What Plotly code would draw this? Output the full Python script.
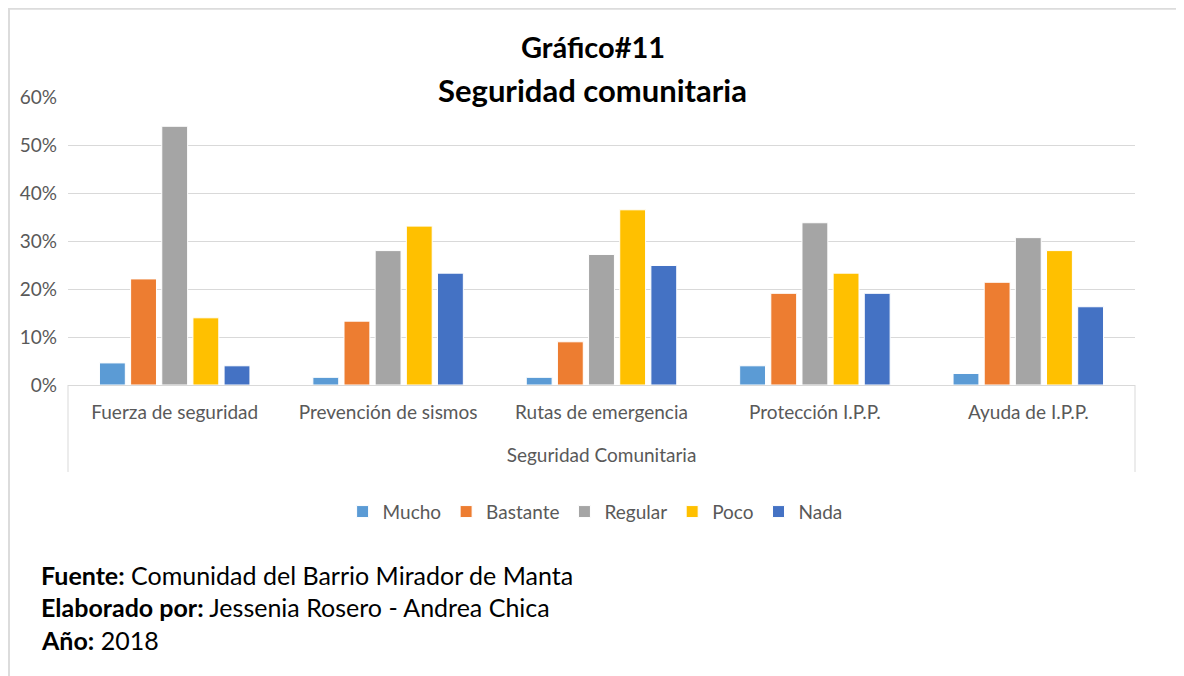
import plotly.graph_objects as go

categories = ["Fuerza de seguridad", "Prevención de sismos", "Rutas de emergencia",
              "Protección I.P.P.", "Ayuda de I.P.P."]
mucho = [0.046, 0.016, 0.016, 0.040, 0.024]
bastante = [0.221, 0.133, 0.090, 0.191, 0.214]
regular = [0.539, 0.280, 0.272, 0.338, 0.307]
poco = [0.140, 0.331, 0.365, 0.233, 0.280]
nada = [0.040, 0.233, 0.249, 0.191, 0.163]
y_ticks = [0, 0.1, 0.2, 0.3, 0.4, 0.5, 0.6]

series = [
    ("Mucho", mucho, "#5B9BD5"),
    ("Bastante", bastante, "#ED7D31"),
    ("Regular", regular, "#A5A5A5"),
    ("Poco", poco, "#FFC000"),
    ("Nada", nada, "#4472C4"),
]

FONT = "Lato, 'Open Sans', sans-serif"
GREY = "#595959"

fig = go.Figure()
for name, values, color in series:
    fig.add_trace(go.Bar(
        x=categories, y=values, name=name,
        marker=dict(color=color, line=dict(color="white", width=1)),
    ))

fig.update_layout(
    width=1184, height=676,
    barmode="group", bargap=0.27, bargroupgap=0.17,
    plot_bgcolor="white", paper_bgcolor="white",
    margin=dict(l=60, r=57, t=89, b=299),
    font=dict(family=FONT, color=GREY, size=19),
    showlegend=True,
    legend=dict(orientation="h", x=0.494, xanchor="center", y=-0.44, yanchor="middle",
                font=dict(size=19, color=GREY), traceorder="normal"),
    xaxis=dict(showline=True, linecolor="#D9D9D9", linewidth=1, ticks="",
               ticklabelstandoff=10, tickfont=dict(size=19),
               title=dict(text="Seguridad Comunitaria", standoff=26,
                          font=dict(size=19, color=GREY))),
    yaxis=dict(range=[0, 0.6], tickvals=y_ticks, tickformat=".0%",
               showgrid=True, gridcolor="#D9D9D9", gridwidth=1,
               zeroline=False, ticklabelstandoff=10, tickfont=dict(size=19)),
)

# Title lines
for text, yp, size in (("<b>Gráfico#11</b>", 1.174, 29), ("<b>Seguridad comunitaria</b>", 1.024, 31)):
    fig.add_annotation(text=text, xref="paper", yref="paper", x=0.492, xanchor="center",
                       y=yp, yanchor="middle", showarrow=False,
                       font=dict(family=FONT, size=size, color="black"))

# Multi-level category frame lines below the axis
for xp in (0, 1):
    fig.add_shape(type="line", xref="paper", yref="paper",
                  x0=xp, x1=xp, y0=0, y1=-0.302,
                  line=dict(color="#D9D9D9", width=1))

# Outer chart border
fig.add_shape(type="rect", xref="paper", yref="paper",
              x0=-0.0553, x1=1.044, y0=-1.2, y1=1.306,
              line=dict(color="#DCDCDC", width=2))

footer = [
    "<b>Fuente:</b> Comunidad del Barrio Mirador de Manta",
    "<b>Elaborado por:</b> Jessenia Rosero - Andrea Chica",
    "<b>Año:</b> 2018",
]
for i, line in enumerate(footer):
    fig.add_annotation(text=line, xref="paper", yref="paper",
                       x=-0.027, xanchor="left", y=-0.66 - i * 0.1125, yanchor="middle",
                       showarrow=False, font=dict(size=25, color="black", family=FONT))

fig.write_html("out.html")
